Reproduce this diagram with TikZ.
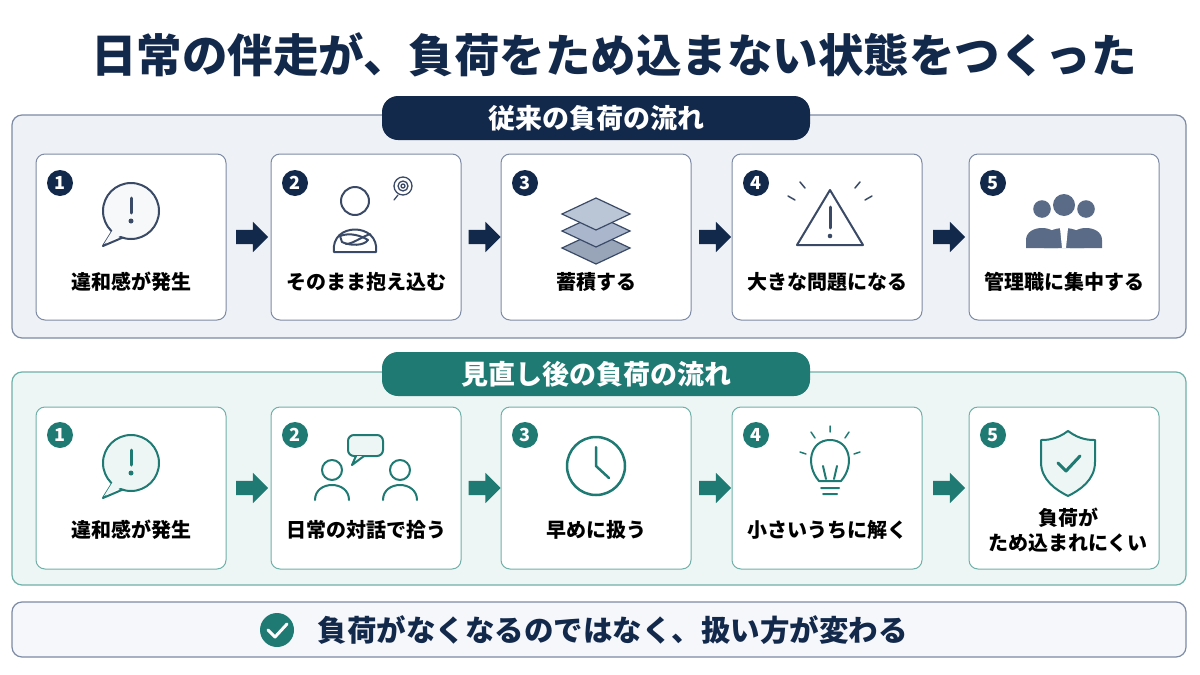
\documentclass[tikz,border=0pt]{standalone}
\usepackage{fontspec}
\setmainfont{Noto Sans CJK JP}
\usetikzlibrary{shapes.arrows,shapes.geometric,calc}
\definecolor{navy}{HTML}{13294B}
\definecolor{teal2}{HTML}{1E7A72}
\definecolor{iconb}{HTML}{3A4A66}
\definecolor{panelb}{HTML}{EEF1F6}
\definecolor{panelt}{HTML}{EEF6F5}
\definecolor{lineb}{HTML}{7D8BA5}
\definecolor{linet}{HTML}{6FB0A8}
\definecolor{layer}{HTML}{A9B6CC}
\definecolor{people}{HTML}{5A6B88}
\tikzset{
panel/.style={draw, rounded corners=10pt, line width=1.2pt},
pill/.style={rounded corners=16pt, minimum width=428pt, minimum height=44pt, text=white, font=\bfseries\fontsize{27}{30}\selectfont},
card/.style={draw, fill=white, rounded corners=9pt, line width=1pt, minimum width=190pt, minimum height=166pt},
num/.style={circle, inner sep=0pt, minimum size=26pt, text=white, font=\bfseries\fontsize{18}{18}\selectfont},
lbl/.style={font=\bfseries\fontsize{20}{25}\selectfont, align=center},
flowarrow/.style={single arrow, inner xsep=0pt, inner ysep=7pt, minimum height=32pt, single arrow head extend=8pt},
ic/.style={line width=2pt, line cap=round, line join=round}
}
\begin{document}
\begin{tikzpicture}[x=1pt, y=-1pt]
\useasboundingbox[fill=white] (0,0) rectangle (1200,675);

\node[text=navy, font=\bfseries\fontsize{45.5}{50}\selectfont] (title) at (614,55) {日常の伴走が、負荷をため込まない状態をつくった};

% upper panel
\draw[panel, draw=lineb, fill=panelb] (12,115) rectangle (1186,338);
\node[pill, fill=navy] (headold) at (596,118) {従来の負荷の流れ};
\foreach \i/\x/\t in {1/131/違和感が発生, 2/366/そのまま抱え込む, 3/596/蓄積する, 4/827/大きな問題になる, 5/1064/管理職に集中する} {
  \node[card, draw=lineb] (old\i) at (\x,237) {};
  \node[num, fill=navy] (oldn\i) at (\x-71,183) {\i};
  \node[lbl] (oldl\i) at (\x,282) {\t};
}
\foreach \a/\b in {1/2,2/3,3/4,4/5}
  \node[flowarrow, fill=navy] (olda\a) at ($(old\a.east)!0.5!(old\b.west)$) {};

% lower panel
\draw[panel, draw=linet, fill=panelt] (12,372) rectangle (1186,585);
\node[pill, fill=teal2] (headnew) at (596,374) {見直し後の負荷の流れ};
\foreach \i/\x/\t in {1/131/違和感が発生, 2/366/日常の対話で拾う, 3/596/早めに扱う, 4/827/小さいうちに解く} {
  \node[card, draw=linet, minimum height=162pt] (new\i) at (\x,488) {};
  \node[num, fill=teal2] (newn\i) at (\x-71,435) {\i};
  \node[lbl] (newl\i) at (\x,530) {\t};
}
\node[card, draw=linet, minimum height=162pt] (new5) at (1064,488) {};
\node[num, fill=teal2] (newn5) at (993,435) {5};
\node[lbl] (newl5) at (1068,530) {負荷が\\ため込まれにくい};
\foreach \a/\b in {1/2,2/3,3/4,4/5}
  \node[flowarrow, fill=teal2] (newa\a) at ($(new\a.east)!0.5!(new\b.west)$) {};

% footer
\draw[panel, draw=lineb, fill=panelb!60] (12,602) rectangle (1186,657);
\node[circle, fill=teal2, minimum size=34pt] (chk) at (277,630) {};
\draw[white, line width=3pt, line cap=round, line join=round] (268,630) -- (275,637) -- (287,624);
\node[anchor=west, text=navy, font=\bfseries\fontsize{29.5}{32}\selectfont] (msg) at (314,630) {負荷がなくなるのではなく、扱い方が変わる};

% icons, upper row
\draw[ic, iconb, fill=white] (113,230) -- (103,246) -- (124,237) -- cycle;
\draw[ic, iconb, fill=panelb!50] (131,211) circle (28);
\fill[panelb!50] (114,228) -- (104,244) -- (122,235) -- cycle;
\draw[ic, iconb, line width=3pt] (131,198) -- (131,213);
\fill[iconb] (131,221) circle (2.5pt);
\draw[ic, iconb] (355,201) circle (14);
\draw[ic, iconb] (334,252) .. controls (330,222) and (380,222) .. (376,252) -- cycle;
\draw[ic, iconb, fill=white] (340,236) .. controls (350,232) and (362,236) .. (368,240) .. controls (364,246) and (350,246) .. (342,242) -- cycle;
\draw[ic, iconb] (370,234) .. controls (360,238) and (352,244) .. (346,244);
\draw[ic, iconb, line width=1.3pt] (403,186) circle (9);
\draw[ic, iconb, line width=1.3pt] (403,186) circle (5) (403,186) circle (2) (398,195) -- (394,200);
\foreach \dy/\c in {34/layer!90!black, 17/layer, 0/layer!80} {
  \draw[iconb, line width=1.2pt, fill=\c] (596,198+\dy) -- (630,214+\dy) -- (596,230+\dy) -- (562,214+\dy) -- cycle;
}
\draw[ic, iconb, fill=white] (830,190) -- (863,245) -- (797,245) -- cycle;
\draw[ic, iconb, line width=3pt] (830,207) -- (830,228);
\fill[iconb] (830,236) circle (2.3pt);
\draw[ic, iconb, line width=1.5pt] (795,200) -- (788,196) (865,200) -- (872,196) (805,188) -- (800,182) (855,188) -- (860,182);
\foreach \px/\s in {1042/0.8, 1086/0.8, 1064/1} {
  \fill[people] (\px,225-20*\s) circle (11*\s);
  \fill[people] (\px-20*\s,248) -- (\px-20*\s,240) .. controls (\px-20*\s,224) and (\px+20*\s,224) .. (\px+20*\s,240) -- (\px+20*\s,248) -- cycle;
}
\fill[white] (1060,228) -- (1068,228) -- (1066,248) -- (1062,248) -- cycle;

% icons, lower row
\draw[ic, teal2, fill=white] (113,482) -- (103,498) -- (124,489) -- cycle;
\draw[ic, teal2, fill=panelt] (131,463) circle (28);
\fill[panelt] (114,480) -- (104,496) -- (122,487) -- cycle;
\draw[ic, teal2, line width=3pt] (131,450) -- (131,465);
\fill[teal2] (131,473) circle (2.5pt);
\foreach \px in {332,400} {
  \draw[ic, teal2] (\px,470) circle (10);
  \draw[ic, teal2] (\px-17,500) .. controls (\px-17,480) and (\px+17,480) .. (\px+17,500);
}
\draw[ic, teal2, fill=panelt, rounded corners=6pt] (348,435) rectangle (383,456);
\draw[ic, teal2, fill=panelt] (356,456) -- (352,465) -- (364,456);
\draw[ic, teal2, line width=2.5pt] (596,466) circle (29);
\draw[ic, teal2, line width=2.5pt] (596,447) -- (596,466) -- (609,478);
\draw[ic, teal2] (819,481) .. controls (805,465) and (810,440) .. (830,440) .. controls (850,440) and (855,465) .. (841,481) -- cycle;
\draw[ic, teal2] (821,488) -- (839,488) (823,494) -- (837,494) (826,479) -- (823,466) (834,479) -- (837,466);
\draw[ic, teal2, line width=1.5pt] (830,426) -- (830,432) (811,432) -- (815,438) (849,432) -- (845,438) (800,452) -- (806,454) (860,452) -- (854,454);
\draw[ic, teal2, fill=panelt] (1068,431) .. controls (1080,440) and (1090,440) .. (1095,440) -- (1095,462) .. controls (1095,480) and (1080,490) .. (1068,496) .. controls (1056,490) and (1041,480) .. (1041,462) -- (1041,440) .. controls (1046,440) and (1056,440) .. (1068,431) -- cycle;
\draw[ic, teal2, line width=3pt] (1058,463) -- (1066,471) -- (1080,456);
\end{tikzpicture}
\end{document}
